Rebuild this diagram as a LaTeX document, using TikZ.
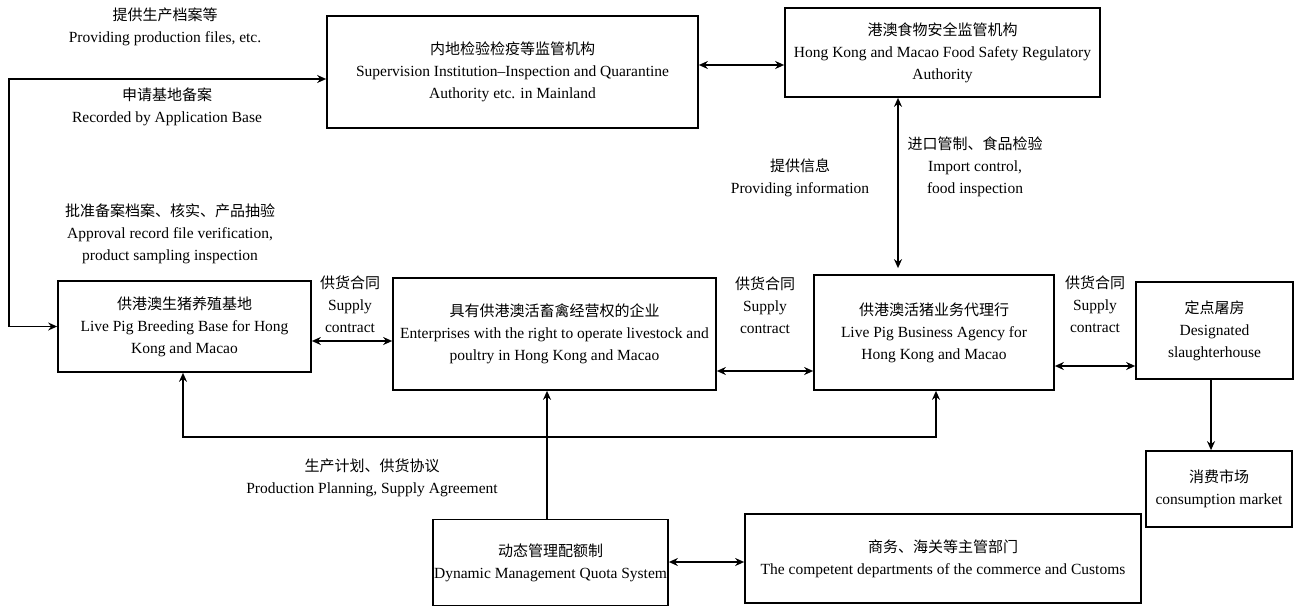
\documentclass[tikz,border=0pt]{standalone}
\usepackage{fontspec}
\setmainfont{Liberation Serif}
\newfontfamily\cjk{Noto Sans CJK SC}
\usetikzlibrary{arrows.meta}
\newcommand\zh[1]{{\cjk\fontsize{15}{22}\selectfont #1}}
\begin{document}
\begin{tikzpicture}[x=1pt,y=-1pt,
 box/.style={draw,line width=1.7pt,inner sep=0pt,align=center,font=\fontsize{15.5}{22}\selectfont},
 lbl/.style={inner sep=0pt,align=center,font=\fontsize{15.5}{22}\selectfont},
 conn/.style={line width=1.7pt,-{Stealth[length=9pt,width=8pt]}},
 dconn/.style={line width=1.7pt,{Stealth[length=9pt,width=8pt]}-{Stealth[length=9pt,width=8pt]}}]
\useasboundingbox (0,0) rectangle (1295,607);
% boxes
\node[box,minimum width=371,minimum height=112] (mainland) at (512.5,72) {\zh{内地检验检疫等监管机构}\\Supervision Institution--Inspection and Quarantine\\Authority etc. in Mainland};
\node[box,minimum width=315,minimum height=89] (hk) at (942.5,52.5) {\zh{港澳食物安全监管机构}\\Hong Kong and Macao Food Safety Regulatory\\Authority};
\node[box,minimum width=253,minimum height=91] (breed) at (184.5,326.5) {\zh{供港澳生猪养殖基地}\\Live Pig Breeding Base for Hong\\Kong and Macao};
\node[box,minimum width=323,minimum height=112] (ent) at (554.5,334) {\zh{具有供港澳活畜禽经营权的企业}\\Enterprises with the right to operate livestock and\\poultry in Hong Kong and Macao};
\node[box,minimum width=240,minimum height=115] (agency) at (934,332.5) {\zh{供港澳活猪业务代理行}\\Live Pig Business Agency for\\Hong Kong and Macao};
\node[box,minimum width=157,minimum height=97] (slaughter) at (1214.5,330.5) {\zh{定点屠房}\\Designated\\slaughterhouse};
\node[box,minimum width=146,minimum height=76] (market) at (1219,489) {\zh{消费市场}\\consumption market};
\node[box,minimum width=235,minimum height=86] (quota) at (550.5,562.5) {\zh{动态管理配额制}\\Dynamic Management Quota System};
\node[box,minimum width=396,minimum height=89] (dept) at (943,558.5) {\zh{商务、海关等主管部门}\\The competent departments of the commerce and Customs};
% labels
\node[lbl] (l1) at (165,27) {\zh{提供生产档案等}\\Providing production files, etc.};
\node[lbl] (l2) at (167,106.5) {\zh{申请基地备案}\\Recorded by Application Base};
\node[lbl] (l3) at (170,234) {\zh{批准备案档案、核实、产品抽验}\\Approval record file verification,\\product sampling inspection};
\node[lbl] (sc1) at (350,304) {\zh{供货合同}\\Supply\\contract};
\node[lbl] (sc2) at (765,305) {\zh{供货合同}\\Supply\\contract};
\node[lbl] (sc3) at (1095,304) {\zh{供货合同}\\Supply\\contract};
\node[lbl] (info) at (800,178) {\zh{提供信息}\\Providing information};
\node[lbl] (imp) at (975,167) {\zh{进口管制、食品检验}\\Import control,\\food inspection};
\node[lbl] (plan) at (372,478) {\zh{生产计划、供货协议}\\Production Planning, Supply Agreement};
% connectors
\draw[dconn] ([yshift=-7pt]mainland.west) -| ([xshift=-48pt]breed.west) -- (breed.west);
\draw[dconn] (mainland.east |- 0,65) -- (hk.west |- 0,65);
\draw[dconn,shorten >=6pt] (hk.south -| 898,0) -- (agency.north -| 898,0);
\draw[dconn] (breed.east |- 0,341) -- (ent.west |- 0,341);
\draw[dconn] (ent.east |- 0,371) -- (agency.west |- 0,371);
\draw[dconn] (agency.east |- 0,366) -- (slaughter.west |- 0,366);
\draw[conn] (slaughter.south -| 1211,0) -- (market.north -| 1211,0);
\draw[conn] (quota.north -| 547,0) -- (ent.south -| 547,0);
\draw[dconn] (breed.south -| 183,0) |- (936,437) -- (agency.south -| 936,0);
\draw[dconn] (quota.east |- 0,562) -- (dept.west |- 0,562);
\end{tikzpicture}
\end{document}
